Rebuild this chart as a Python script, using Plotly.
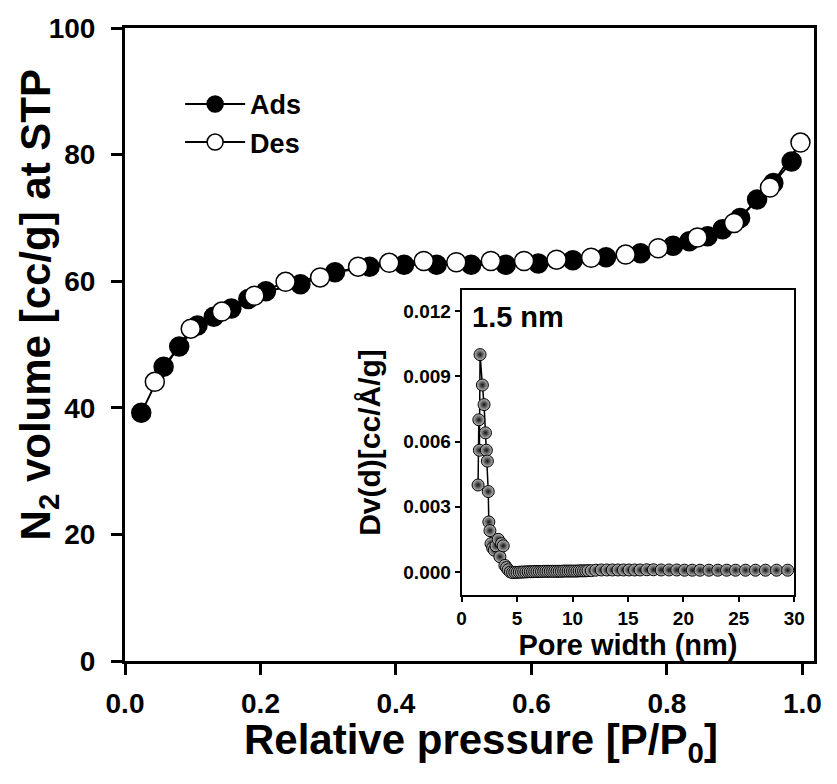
import plotly.graph_objects as go

# Main isotherm
ads_p = [0.024, 0.057, 0.080, 0.107, 0.131, 0.157, 0.182, 0.208, 0.259, 0.310,
         0.361, 0.412, 0.460, 0.511, 0.562, 0.610, 0.661, 0.710, 0.761, 0.809,
         0.833, 0.860, 0.882, 0.908, 0.933, 0.957, 0.984]
ads_v = [39.2, 46.5, 49.7, 53.0, 54.4, 55.7, 57.2, 58.4, 59.5, 61.4,
         62.3, 62.6, 62.6, 62.6, 62.6, 62.8, 63.3, 63.8, 64.4, 65.6,
         66.3, 67.1, 68.2, 70.0, 72.9, 75.5, 78.9]
des_p = [0.997, 0.952, 0.899, 0.845, 0.787, 0.739, 0.688, 0.637, 0.589, 0.540,
         0.489, 0.441, 0.390, 0.344, 0.288, 0.237, 0.191, 0.143, 0.097, 0.044]
des_v = [81.9, 74.8, 69.2, 66.9, 65.2, 64.2, 63.7, 63.4, 63.2, 63.2,
         63.0, 63.2, 62.9, 62.3, 60.6, 59.9, 57.7, 55.2, 52.5, 44.1]

# Inset PSD
psd_w = [1.48, 1.55, 1.60, 1.66, 1.87, 2.02, 2.15, 2.23, 2.32, 2.40, 2.45, 2.55,
         2.65, 2.80, 2.95, 3.10, 3.30, 3.45, 3.60, 3.75, 3.90, 4.05, 4.20, 4.40,
         4.60, 4.80, 5.00, 5.20, 5.40, 5.60, 5.80, 6.00, 6.20, 6.40, 6.60, 6.80,
         7.00, 7.20, 7.40, 7.60, 7.80, 8.00, 8.20, 8.40, 8.60, 8.80, 9.00, 9.20,
         9.40, 9.60, 9.80, 10.0, 10.2, 10.4, 10.6, 10.8, 11.0, 11.2, 11.4, 11.7,
         12.1, 12.6, 13.1, 13.6, 14.1, 14.6, 15.1, 15.6, 16.1, 16.7, 17.3, 18.0,
         18.7, 19.4, 20.1, 20.8, 21.5, 22.3, 23.1, 23.9, 24.7, 25.6, 26.5, 27.4,
         28.4, 29.4]
psd_dv = [0.0040, 0.0070, 0.0056, 0.0100, 0.0086, 0.0077, 0.0064, 0.0056, 0.0051, 0.0037,
          0.0023, 0.0019, 0.0013, 0.0011, 0.0010, 0.0012, 0.0015, 0.0007, 0.0013, 0.0012,
          0.0003, 0.0002, 0.0001, 0.00000,
          -0.00003, -0.00002, -0.00002, -0.00001, -0.00001, 0.00000, 0.00000, 0.00001,
          0.00001, 0.00001, 0.00002, 0.00002, 0.00002, 0.00002, 0.00003, 0.00003,
          0.00003, 0.00003, 0.00003, 0.00003, 0.00003, 0.00003, 0.00003, 0.00004,
          0.00004, 0.00004, 0.00004, 0.00004, 0.00004, 0.00004, 0.00005, 0.00005,
          0.00005, 0.00005, 0.00006, 0.00006,
          0.00008, 0.00009, 0.00009, 0.00009, 0.00009, 0.00009, 0.00009, 0.00009,
          0.00009, 0.00010, 0.00010, 0.00009, 0.00009, 0.00009, 0.00008, 0.00008,
          0.00008, 0.00008, 0.00008, 0.00008, 0.00008, 0.00008, 0.00008, 0.00008,
          0.00008, 0.00008]

main_xticks = [0.0, 0.2, 0.4, 0.6, 0.8, 1.0]
main_yticks = [0, 20, 40, 60, 80, 100]
inset_xticks = [0, 5, 10, 15, 20, 25, 30]
inset_yticks = [0.000, 0.003, 0.006, 0.009, 0.012]

FONT = "Liberation Sans"
fig = go.Figure()

fig.add_trace(go.Scatter(
    x=ads_p, y=ads_v, mode="lines+markers", name="Ads",
    line=dict(color="black", width=2),
    marker=dict(symbol="circle", size=19, color="black", line=dict(color="black", width=1.5)),
))
fig.add_trace(go.Scatter(
    x=des_p, y=des_v, mode="lines+markers", name="Des",
    line=dict(color="black", width=2),
    marker=dict(symbol="circle", size=19, color="white", line=dict(color="black", width=1.5)),
))
fig.add_trace(go.Scatter(
    x=psd_w, y=psd_dv, mode="lines+markers", showlegend=False,
    xaxis="x2", yaxis="y2",
    line=dict(color="black", width=1.5),
    marker=dict(symbol="circle", size=12, color="#c0c0c0",
                gradient=dict(type="radial", color="#101010"),
                line=dict(color="black", width=1)),
))

main_axis = dict(showline=True, linecolor="black", linewidth=3, mirror=True,
                 ticks="outside", tickcolor="black", tickwidth=2.5, ticklen=11,
                 showgrid=False, zeroline=False,
                 tickfont=dict(family=FONT, size=28, weight="bold"))
inset_axis = dict(showline=True, linecolor="black", linewidth=2, mirror=True,
                  ticks="outside", tickcolor="black", tickwidth=1.5, ticklen=5,
                  showgrid=False, zeroline=False,
                  tickfont=dict(family=FONT, size=19, weight="bold"))

fig.update_layout(
    width=837, height=784,
    margin=dict(l=125, r=12, t=28, b=123),
    paper_bgcolor="white", plot_bgcolor="white",
    font=dict(family=FONT, color="black"),
    showlegend=True,
    legend=dict(x=0.08, y=0.918, xanchor="left", yanchor="top",
                bgcolor="rgba(0,0,0,0)", borderwidth=0,
                font=dict(family=FONT, size=27, weight="bold"),
                itemwidth=60, tracegroupgap=0),
    xaxis=dict(domain=[0, 1], range=[0, 1.017], tickvals=main_xticks,
               ticktext=[f"{v:.1f}" for v in main_xticks], ticklabelstandoff=4,
               **main_axis),
    yaxis=dict(domain=[0, 1], range=[0, 100], tickvals=main_yticks,
               ticklabelstandoff=10, **main_axis),
    xaxis2=dict(domain=[0.4886, 0.9714], anchor="y2", range=[0, 30],
                tickvals=inset_xticks,
                title=dict(text="Pore width (nm)", standoff=0,
                           font=dict(family=FONT, size=29, weight="bold")),
                **inset_axis),
    yaxis2=dict(domain=[0.1043, 0.586], anchor="x2", range=[-0.00106, 0.01297],
                tickvals=inset_yticks, ticktext=[f"{v:.3f}" for v in inset_yticks],
                title=dict(text="Dv(d)[cc/Å/g]", standoff=14,
                           font=dict(family=FONT, size=30, weight="bold")),
                **inset_axis),
    annotations=[
        dict(text="1.5 nm", xref="x2 domain", yref="y2 domain",
             x=0.025, y=0.97, xanchor="left", yanchor="top", showarrow=False,
             font=dict(family=FONT, size=29, weight="bold")),
        dict(text="Relative pressure [P/P<sub>0</sub>]", xref="paper", yref="paper",
             x=0.517, y=-0.1295, xanchor="center", yanchor="middle", showarrow=False,
             font=dict(family=FONT, size=42, weight="bold")),
        dict(text="N<sub>2</sub> volume [cc/g] at STP", xref="paper", yref="paper",
             x=-0.126, y=0.562, xanchor="center", yanchor="middle", showarrow=False,
             textangle=-90,
             font=dict(family=FONT, size=42, weight="bold")),
    ],
)

fig.write_html("out.html")
